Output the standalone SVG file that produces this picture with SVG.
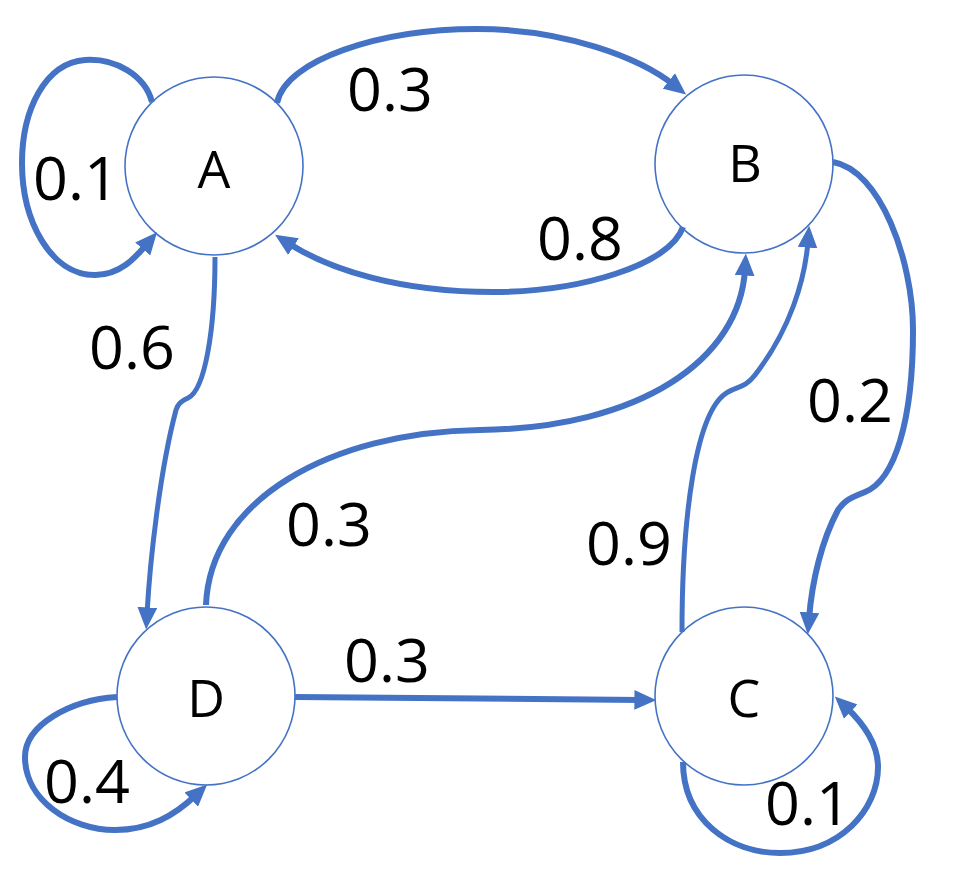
<svg xmlns="http://www.w3.org/2000/svg" width="961" height="888" viewBox="0 0 961 888">
  <style>
    .node circle { fill: #ffffff; stroke: #4472C4; stroke-width: 1.6; }
    .node text, .lbl { font-family: "Open Sans", "Liberation Sans", sans-serif; fill: #000000; text-anchor: middle; }
    .node text { font-size: 52px; }
    .lbl { font-size: 61px; }
    .edge { fill: none; stroke: #4472C4; stroke-width: 6; marker-end: url(#arrow); }
    .thin { stroke-width: 5; }
  </style>
  <defs>
    <marker id="arrow" markerUnits="userSpaceOnUse" markerWidth="22" markerHeight="20" viewBox="0 0 20 18" refX="6" refY="9" orient="auto">
      <path d="M0,0 L20,9 L0,18 z" fill="#4472C4"/>
    </marker>
  </defs>

  <rect width="961" height="888" fill="#ffffff"/>

  <!-- states -->
  <g id="node-A" class="node">
    <circle cx="214" cy="166" r="89"/>
    <text x="214" y="188">A</text>
  </g>
  <g id="node-B" class="node">
    <circle cx="744" cy="164" r="89"/>
    <text x="745" y="182">B</text>
  </g>
  <g id="node-D" class="node">
    <circle cx="206" cy="696" r="89"/>
    <text x="206" y="717">D</text>
  </g>
  <g id="node-C" class="node">
    <circle cx="744" cy="696" r="89"/>
    <text x="744" y="717">C</text>
  </g>

  <!-- transitions -->
  <g id="connectors">
    <!-- A -> A -->
    <path class="edge" d="M152,102 C145,75 115,58 85,60 C45,63 22,110 22,163 C22,220 50,275 95,275 C120,275 135,258 147,244"/>
    <!-- A -> B -->
    <path class="edge" d="M277,103 C285,60 380,29 477,29 C565,29 640,58 674,85"/>
    <!-- B -> A -->
    <path class="edge" d="M683,227 C670,265 580,292 493,292 C400,292 330,270 288,243"/>
    <!-- A -> D -->
    <path class="edge thin" d="M215,257 C215,330 205,390 188,398 C180,402 178,404 176,410 C160,470 150,560 147,614"/>
    <!-- D -> B -->
    <path class="edge" d="M206,605 C210,500 330,432 480,430 C640,428 740,360 745,269"/>
    <!-- D -> C -->
    <path class="edge" d="M295,697 L641,700"/>
    <!-- C -> B -->
    <path class="edge thin" d="M682,632 C682,520 695,410 728,392 C738,386 745,388 755,375 C790,330 805,280 808,241"/>
    <!-- B -> C -->
    <path class="edge" d="M833,162 C880,170 913,260 913,330 C913,420 895,480 865,492 C850,498 845,500 838,510 C822,540 812,580 809,619"/>
    <!-- C -> C -->
    <path class="edge" d="M683,762 C683,820 730,853 780,853 C840,853 878,810 878,767 C878,745 865,725 846,707"/>
    <!-- D -> D -->
    <path class="edge" d="M117,697 C70,700 25,725 25,757 C25,800 70,830 115,830 C150,830 175,815 196,795"/>
  </g>

  <!-- transition probabilities -->
  <g id="labels">
    <text class="lbl" x="76" y="200">0.1</text>
    <text class="lbl" x="390" y="111">0.3</text>
    <text class="lbl" x="580" y="260">0.8</text>
    <text class="lbl" x="132" y="369">0.6</text>
    <text class="lbl" x="329" y="546">0.3</text>
    <text class="lbl" x="629" y="565">0.9</text>
    <text class="lbl" x="850" y="422">0.2</text>
    <text class="lbl" x="387" y="682">0.3</text>
    <text class="lbl" x="87" y="803">0.4</text>
    <text class="lbl" x="808" y="825">0.1</text>
  </g>
</svg>
